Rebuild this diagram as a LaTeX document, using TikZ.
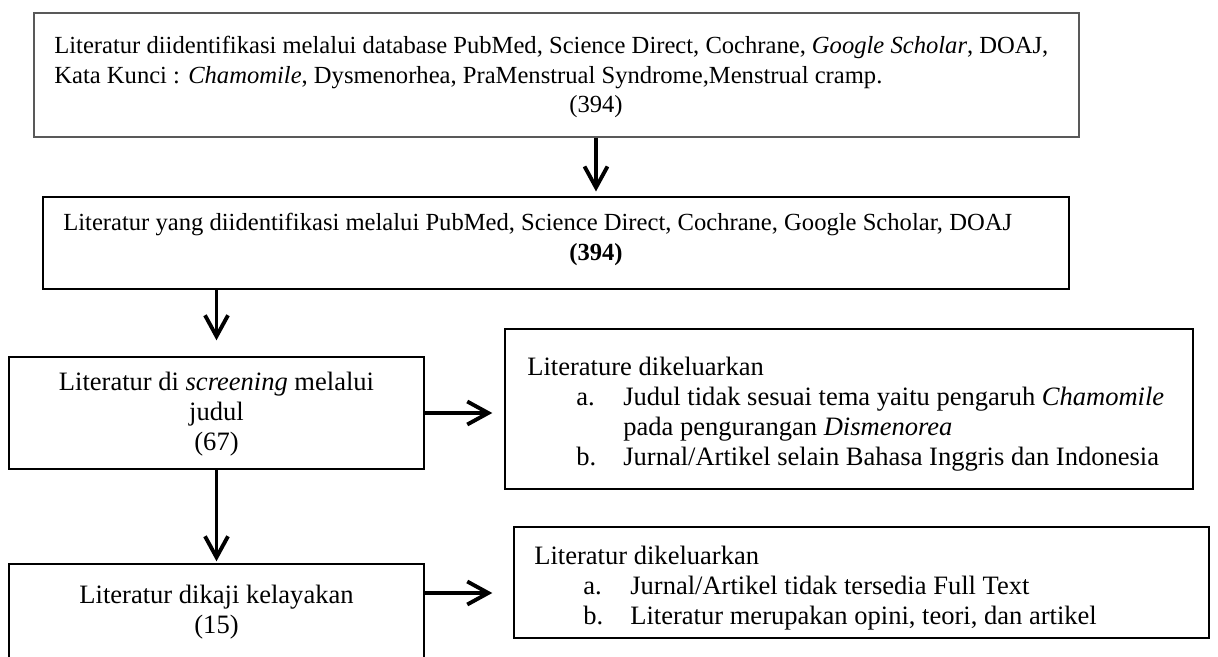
\documentclass[tikz,border=0pt]{standalone}
\usepackage{fontspec}
\setmainfont{Liberation Serif}
\usetikzlibrary{arrows.meta,calc}
\tikzstyle{box}=[rectangle, fill=white, line width=0.8pt, inner sep=0pt, draw=black, anchor = center]
\tikzstyle{annot} = [inner sep=0pt, font=\fontsize{15.1pt}{17.07pt}\selectfont]
\tikzstyle{wide} = [annot, font=\fontsize{14pt}{17.07pt}\selectfont]
\tikzstyle{flow} = [line width=2.2pt, -{Straight Barb[length=0.42cm,width=0.46cm]}]
\newcommand{\itemrow}[2]{\hspace*{0.98cm}\makebox[0.94cm][l]{#1}#2}

\begin{document}
\begin{tikzpicture}
	\useasboundingbox (0,0) rectangle (24.36,-13.14);

	% boxes
	\node[box, minimum width=20.90cm, minimum height=2.48cm, line width=0.6pt, draw=black!65](ident) at (11.13,-1.50){};
	\node[box, minimum width=20.52cm, minimum height=1.84cm, line width=0.6pt](found) at (11.12,-4.86){};
	\node[box, minimum width=8.30cm, minimum height=2.24cm](screen) at (4.33,-8.26){};
	\node[box, minimum width=8.30cm, minimum height=1.92cm](elig) at (4.33,-12.24){};
	\node[box, minimum width=13.76cm, minimum height=3.20cm](excl1) at (16.98,-8.18){};
	\node[box, minimum width=13.90cm, minimum height=2.22cm](excl2) at (17.23,-11.65){};

	% texts
	\node[wide, anchor=west, align=left](identtxt) at (1.08,-1.25) {Literatur diidentifikasi melalui database PubMed, Science Direct, Cochrane, \textit{Google Scholar}, DOAJ,\\ Kata Kunci : \textit{Chamomile}, Dysmenorhea, PraMenstrual Syndrome,Menstrual cramp.};
	\node[wide](identnum) at (11.92,-2.14) {(394)};
	\node[wide, anchor=west](foundtxt) at (1.26,-4.48) {Literatur yang diidentifikasi melalui PubMed, Science Direct, Cochrane, Google Scholar, DOAJ};
	\node[wide](foundnum) at (11.92,-5.10) {\textbf{(394)}};
	\node[annot, align=center](screentxt) at (4.33,-8.28) {Literatur di \textit{screening} melalui\\ judul\\ (67)};
	\node[annot, align=center](eligtxt) at (4.33,-12.24) {Literatur dikaji kelayakan\\ (15)};
	\node[annot, anchor=west, align=left](excl1txt) at (10.54,-8.28) {Literature dikeluarkan\\
		\itemrow{a.}{Judul tidak sesuai tema yaitu pengaruh \textit{Chamomile}}\\
		\hspace*{1.92cm}pada pengurangan \textit{Dismenorea}\\
		\itemrow{b.}{Jurnal/Artikel selain Bahasa Inggris dan Indonesia}};
	\node[annot, anchor=west, align=left](excl2txt) at (10.68,-11.76) {Literatur dikeluarkan\\
		\itemrow{a.}{Jurnal/Artikel tidak tersedia Full Text}\\
		\itemrow{b.}{Literatur merupakan opini, teori, dan artikel}};

	% arrows
	\draw[flow, shorten >=0.1cm] (ident.south -| identnum) -- (found.north -| identnum);
	\draw[flow, shorten >=0.32cm] (found.south -| screen.north) -- (screen.north);
	\draw[flow, shorten >=0.04cm] (screen.south) -- (elig.north);
	\draw[flow, shorten >=0.24cm] (screen.east) -- (screen.east -| excl1.west);
	\draw[flow, shorten >=0.42cm] ($(elig.east)+(0,0.38)$) -- ($(elig.east -| excl2.west)+(0,0.38)$);

\end{tikzpicture}
\end{document}
